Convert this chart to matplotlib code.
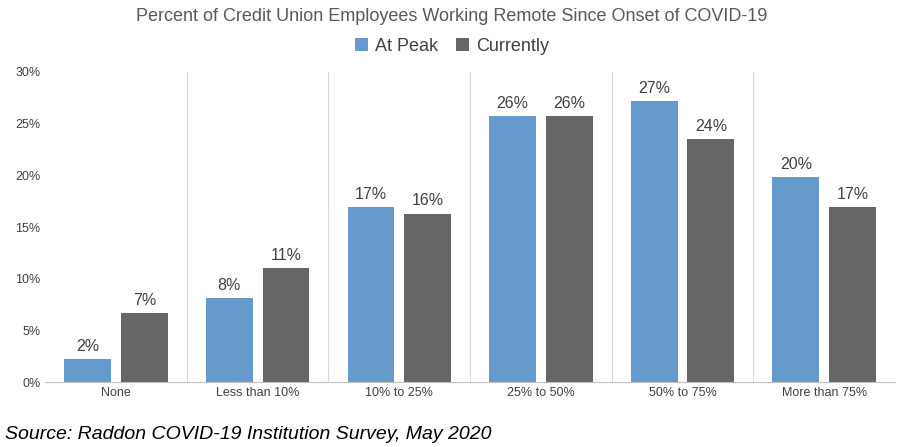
import matplotlib
matplotlib.use('Agg')
import matplotlib.pyplot as plt
import numpy as np

categories = ['None', 'Less than 10%', '10% to 25%', '25% to 50%', '50% to 75%', 'More than 75%']
at_peak = [2.2, 8.1, 16.9, 25.7, 27.2, 19.8]
currently = [6.7, 11.0, 16.3, 25.7, 23.5, 16.9]
peak_labels = ['2%', '8%', '17%', '26%', '27%', '20%']
curr_labels = ['7%', '11%', '16%', '26%', '24%', '17%']

plt.rcParams['font.family'] = ['Liberation Sans', 'DejaVu Sans']
fig = plt.figure(figsize=(9.04, 4.47), dpi=100)
ax = fig.add_axes([0.05, 0.145, 0.94, 0.694])

x = np.arange(len(categories))
w = 0.33
b1 = ax.bar(x - 0.2, at_peak, w, color='#6699CC', label='At Peak')
b2 = ax.bar(x + 0.2, currently, w, color='#666666', label='Currently')
for bars, labs in [(b1, peak_labels), (b2, curr_labels)]:
    for b, t in zip(bars, labs):
        ax.text(b.get_x() + b.get_width() / 2, b.get_height() + 0.5, t,
                ha='center', va='bottom', fontsize=11.5, color='#404040')

ax.set_xlim(-0.5, len(categories) - 0.5)
ax.set_ylim(0, 30)
ax.set_yticks(range(0, 31, 5))
ax.set_yticklabels([f'{v}%' for v in range(0, 31, 5)], fontsize=9, color='#404040')
ax.set_xticks(x)
ax.set_xticklabels(categories, fontsize=9, color='#404040')
ax.tick_params(length=0)
for i in range(1, len(categories)):
    ax.axvline(i - 0.5, color='#D9D9D9', lw=0.8)
for s in ['top', 'right', 'left']:
    ax.spines[s].set_visible(False)
ax.spines['bottom'].set_color('#BFBFBF')

fig.text(0.5, 0.962, 'Percent of Credit Union Employees Working Remote Since Onset of COVID-19',
         ha='center', va='center', fontsize=13, color='#595959')
fig.legend(loc='center', bbox_to_anchor=(0.5, 0.897), ncol=2, frameon=False,
           fontsize=13, handlelength=0.7, handleheight=0.7, columnspacing=1.0,
           handletextpad=0.4, labelcolor='#404040')
fig.text(0.005, 0.027, 'Source: Raddon COVID-19 Institution Survey, May 2020',
         ha='left', va='center', fontsize=14, style='italic', color='black')

fig.savefig('out.png', dpi=100)
